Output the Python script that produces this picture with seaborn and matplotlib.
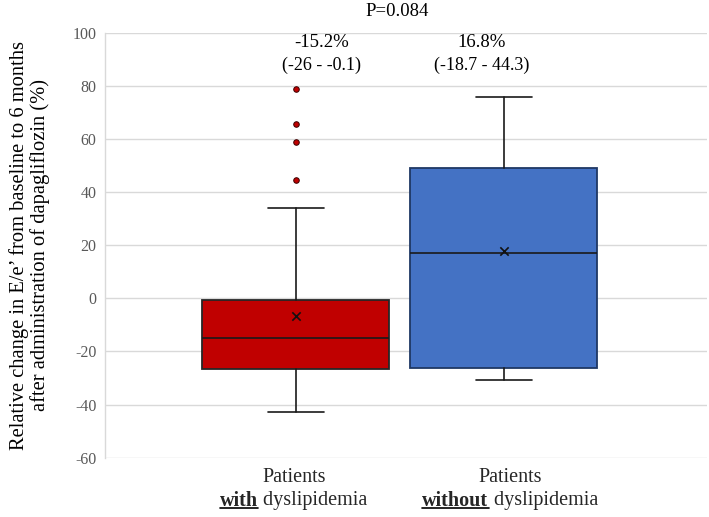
import numpy as np
import pandas as pd
import seaborn as sns
import matplotlib.pyplot as plt

# Box statistics (relative change in E/e', %)
groups = ['with', 'without']
whisker_low = [-42.7, -30.7]
q1 = [-26.7, -26.3]
median = [-15.1, 17.2]
q3 = [-0.6, 48.9]
whisker_high = [34.0, 75.6]
mean = [-6.7, 17.8]
outliers_with = [78.6, 65.5, 58.8, 44.5]

box_colors = ['#C00000', '#4472C4']
edge_colors = ['#262626', '#1F3864']

# annotation texts above each box
median_text = ['-15.2%', '16.8%']
iqr_text = ['(-26 - -0.1)', '(-18.7 - 44.3)']
p_text = 'P=0.084'

sns.set_theme(style='whitegrid')
plt.rcParams['font.family'] = ['Liberation Serif', 'DejaVu Serif']
plt.rcParams['axes.unicode_minus'] = False

fig = plt.figure(figsize=(7.09, 5.17), dpi=100)
ax = fig.add_axes([0.148, 0.1147, 0.849, 0.8224])

stats = []
for i in range(len(groups)):
    stats.append(dict(whislo=whisker_low[i], q1=q1[i], med=median[i], q3=q3[i],
                      whishi=whisker_high[i], fliers=[]))
bp = ax.bxp(stats, positions=[0, 1], widths=0.9, patch_artist=True,
            showfliers=False, capwidths=0.27)
for i, box in enumerate(bp['boxes']):
    box.set_facecolor(box_colors[i])
    box.set_edgecolor(edge_colors[i])
    box.set_linewidth(1.3)
for line in bp['medians'] + bp['whiskers'] + bp['caps']:
    line.set_color('#1a1a1a')
    line.set_linewidth(1.2)

# outliers and means
out_df = pd.DataFrame({'x': [0] * len(outliers_with), 'y': outliers_with})
sns.scatterplot(data=out_df, x='x', y='y', ax=ax, color='#C00000', edgecolor='#3a0000',
                s=16, linewidth=0.7, zorder=5)
mean_df = pd.DataFrame({'x': [0, 1], 'y': mean})
sns.scatterplot(data=mean_df, x='x', y='y', ax=ax, marker='x', color='#111111',
                s=36, linewidth=1.2, zorder=5)

ax.set_xlim(-0.918, 1.976)
ax.set_ylim(-60, 100)
ax.set_yticks(np.arange(-60, 101, 20))
ax.set_xticks([])
ax.set_xlabel('')
ax.grid(axis='y', color='#d9d9d9', linewidth=1.0)
ax.grid(axis='x', visible=False)
for side in ['top', 'right', 'bottom']:
    ax.spines[side].set_visible(False)
ax.spines['left'].set_color('#d9d9d9')
ax.spines['left'].set_linewidth(1.0)
ax.tick_params(axis='y', labelsize=11.5, labelcolor='#595959', length=0, pad=6)

ax.set_ylabel("Relative change in E/e\u2019 from baseline to 6 months\nafter administration of dapagliflozin (%)",
              fontsize=14.8, color='black', linespacing=1.12, labelpad=16)

# annotations
ann_x = [0.125, 0.894]
for i in range(2):
    ax.text(ann_x[i], 96.1, median_text[i], ha='center', va='center', fontsize=13.5, color='black')
    ax.text(ann_x[i], 87.8, iqr_text[i], ha='center', va='center', fontsize=13, color='black')
ax.text(0.486, 107.8, p_text, ha='center', va='center', fontsize=13.5, color='black', clip_on=False)

# category labels: "Patients" / bold underlined word + " dyslipidemia"
label_x = [-0.01, 1.03]
fig.canvas.draw()
renderer = fig.canvas.get_renderer()
for i in range(2):
    ax.text(label_x[i], -67.3, 'Patients', ha='center', va='center', fontsize=14.5, clip_on=False)
    tb = ax.text(0, 0, groups[i], fontsize=14.5, fontweight='bold', ha='left', va='center')
    tn = ax.text(0, 0, ' dyslipidemia', fontsize=14.5, ha='left', va='center')
    wb = tb.get_window_extent(renderer).width
    wn = tn.get_window_extent(renderer).width
    xc_px = ax.transData.transform((label_x[i], 0))[0]
    y_px = ax.transData.transform((0, -76.2))[1]
    left_px = xc_px - (wb + wn) / 2
    inv = ax.transData.inverted()
    xb, yb = inv.transform((left_px, y_px))
    xn, _ = inv.transform((left_px + wb, y_px))
    tb.set_position((xb, yb))
    tn.set_position((xn, yb))
    tb.set_clip_on(False)
    tn.set_clip_on(False)
    # underline under the bold word
    x_end, _ = inv.transform((left_px + wb, y_px))
    _, y_ul = inv.transform((0, y_px - 7.5))
    ax.plot([xb, x_end], [y_ul, y_ul], color='black', linewidth=1.2, clip_on=False)

fig.savefig('out.png', dpi=100)
